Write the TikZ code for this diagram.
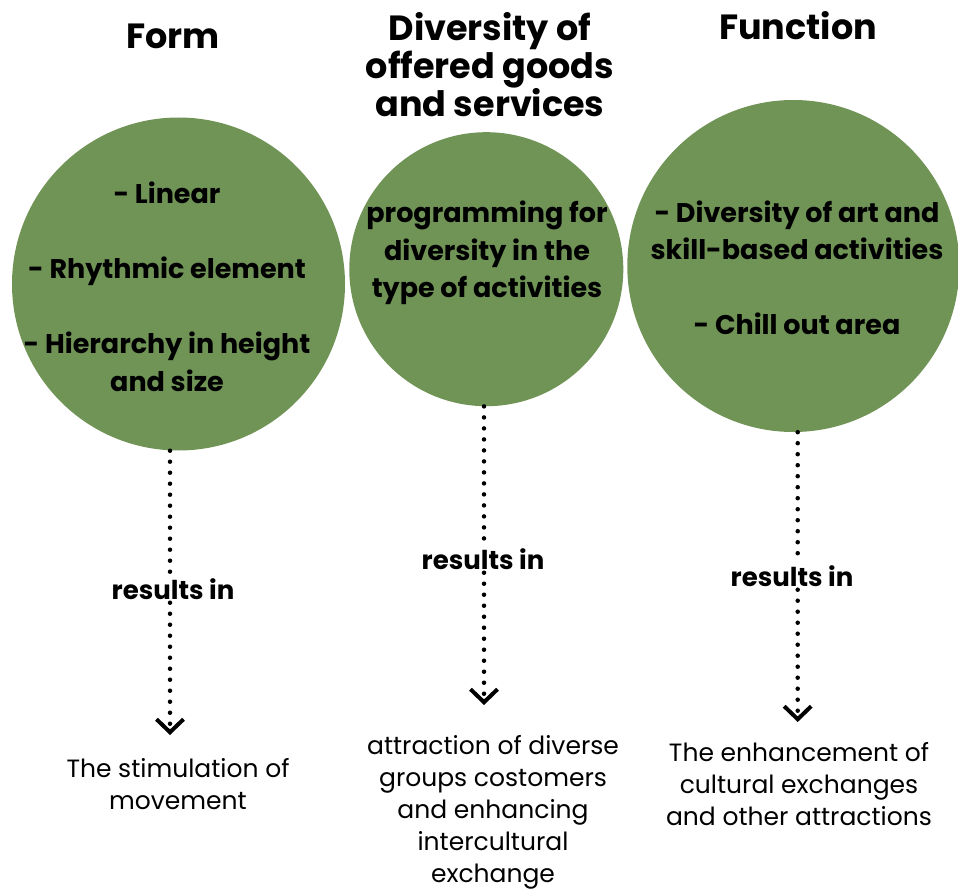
\documentclass[tikz,border=0pt]{standalone}
\usepackage{fontspec}
\setmainfont{Poppins}
\usetikzlibrary{arrows.meta}
\definecolor{leaf}{RGB}{112,147,86}
\begin{document}
\begin{tikzpicture}[x=1pt,y=-1pt,
  blob/.style={circle,fill=leaf,draw=none,inner sep=0pt},
  title/.style={align=center,font=\bfseries\fontsize{35}{37.5}\selectfont,inner sep=0pt},
  inner/.style={align=center,font=\bfseries\fontsize{27}{37.5}\selectfont,inner sep=0pt},
  resl/.style={font=\bfseries\fontsize{26}{30}\selectfont,inner sep=3pt},
  outcome/.style={align=center,font=\fontsize{25}{32}\selectfont,inner sep=0pt},
  dotline/.style={line width=4.5pt,dash pattern=on 0pt off 11pt,line cap=round},
  tip/.style={-{Straight Barb[length=13pt,width=27pt,line width=4pt]}}
]
\useasboundingbox (0,0) rectangle (958,893);
% circles
\node[blob,minimum size=333pt] (c1) at (178.5,284) {};
\node[blob,minimum size=274pt] (c2) at (486.3,269.2) {};
\node[blob,minimum size=332pt] (c3) at (793.3,266) {};
% titles
\node[title] (t1) at (173,36) {Form};
\node[title] (t2) at (490,65) {Diversity of\\offered goods\\and services};
\node[title] (t3) at (798,26) {Function};
% circle texts
\node[inner] (i1) at (167,287) {- Linear\\[37.5pt]- Rhythmic element\\[37.5pt]- Hierarchy in height\\and size};
\node[inner] (i2) at (487,253) {programming for\\diversity in the\\type of activities};
\node[inner] (i3) at (797,268) {- Diversity of art and\\skill-based activities\\[37.5pt]- Chill out area};
% results in
\node[resl] (r1) at (173,589) {results in};
\node[resl] (r2) at (483,559) {results in};
\node[resl] (r3) at (792,576) {results in};
% arrow tips
\coordinate (a1) at (170,735);
\coordinate (a2) at (484,705);
\coordinate (a3) at (797.7,722);
% outcomes
\node[outcome] (o1) at (178,784) {The stimulation of\\movement};
\node[outcome] (o2) at (493,812) {attraction of diverse\\groups costomers\\and enhancing\\intercultural\\exchange};
\node[outcome] (o3) at (799,784) {The enhancement of\\cultural exchanges\\and other attractions};
% connectors
\draw[dotline] (c1.south -| a1) -- (r1.north -| a1);
\draw[dotline] (c2.south -| a2) -- (r2.north -| a2);
\draw[dotline] (c3.south -| a3) -- (r3.north -| a3);
\draw[dotline,tip] (r1.south -| a1) -- (a1);
\draw[dotline,tip] (r2.south -| a2) -- (a2);
\draw[dotline,tip] (r3.south -| a3) -- (a3);
\end{tikzpicture}
\end{document}
